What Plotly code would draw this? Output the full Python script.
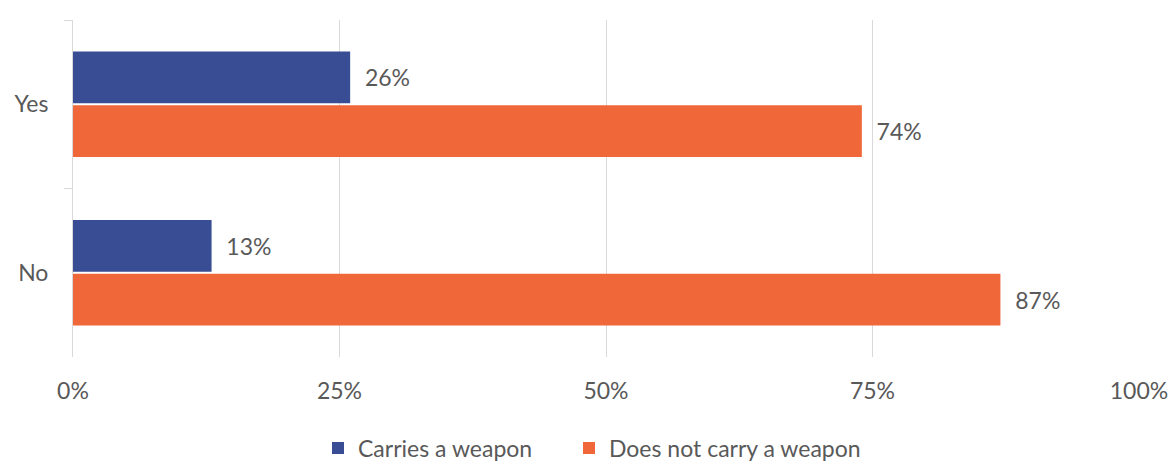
import plotly.graph_objects as go

categories = ["Yes", "No"]
carries = [0.26, 0.13]
not_carries = [0.74, 0.87]
series_names = ["Carries a weapon", "Does not carry a weapon"]
colors = ["#384D93", "#F0673A"]

font_family = "Lato, 'Open Sans', sans-serif"
txt_color = "#595959"
fs = 23

legend_ids = ["legend", "legend2"]
legend_x = [318, 569]

fig = go.Figure()
for name, vals, col, lg in zip(series_names, [carries, not_carries], colors, legend_ids):
    fig.add_trace(go.Bar(
        y=categories, x=vals, name=name, orientation="h",
        marker=dict(color=col, line=dict(width=0)),
        text=[f"{round(v*100)}%" for v in vals],
        texttemplate="  %{text}",
        textposition="outside",
        textfont=dict(size=fs, color=txt_color, family=font_family),
        cliponaxis=False,
        legend=lg,
    ))

leg_common = dict(orientation="h", xanchor="left", xref="container",
                  y=1 - 448/461, yanchor="middle", yref="container",
                  font=dict(size=fs, color=txt_color), itemwidth=30)

fig.update_layout(
    width=1171, height=461,
    margin=dict(l=73, r=32, t=20, b=104, autoexpand=False),
    barmode="group", bargap=0.36, bargroupgap=0.04,
    plot_bgcolor="white", paper_bgcolor="white",
    font=dict(family=font_family, size=fs, color=txt_color),
    legend=dict(x=legend_x[0] / 1171, **leg_common),
    legend2=dict(x=legend_x[1] / 1171, **leg_common),
    showlegend=True,
)
fig.update_xaxes(range=[0, 1], dtick=0.25, tickformat=".0%", showgrid=True,
                 gridcolor="#D9D9D9", gridwidth=1, zeroline=False, showline=False,
                 ticks="", ticklabelstandoff=18,
                 tickfont=dict(size=fs, color=txt_color), automargin=False)
fig.update_yaxes(autorange="reversed", categoryorder="array", categoryarray=categories,
                 showline=True, linecolor="#D9D9D9", linewidth=1, ticks="outside",
                 tickson="boundaries", ticklen=8, tickcolor="#D9D9D9", showgrid=False,
                 ticklabelstandoff=19, automargin=False,
                 tickfont=dict(size=fs, color=txt_color))

fig.write_html("out.html")
